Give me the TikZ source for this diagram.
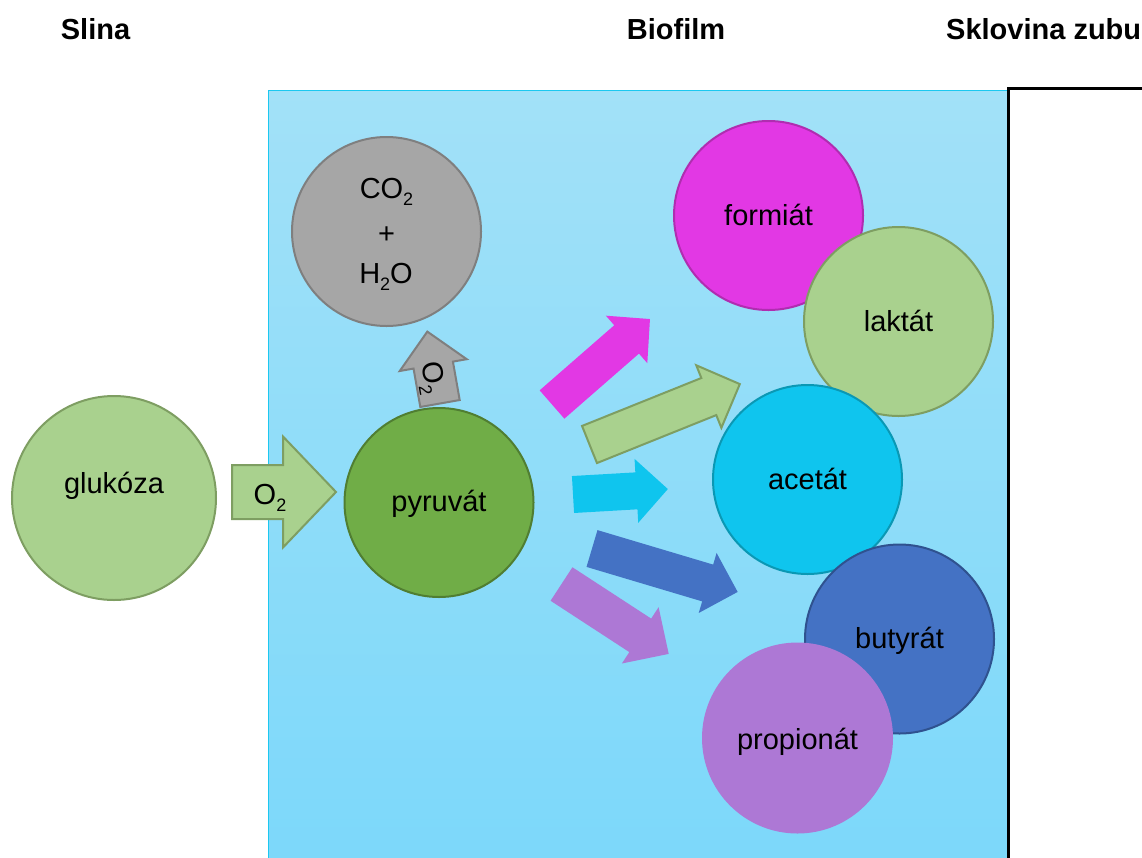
\documentclass[tikz,border=0pt]{standalone}
\usepackage{fontspec}
\setmainfont{Liberation Sans}
\definecolor{bfTop}{HTML}{A2E1F8}
\definecolor{bfBot}{HTML}{7CD8FA}
\definecolor{bfEdge}{HTML}{1CC8F0}
\definecolor{cGrn}{HTML}{A9D18E}
\definecolor{cGrnD}{HTML}{7E9E62}
\definecolor{cPyr}{HTML}{70AD47}
\definecolor{cPyrD}{HTML}{507E32}
\definecolor{cGry}{HTML}{A6A6A6}
\definecolor{cGryD}{HTML}{7F7F7F}
\definecolor{cMag}{HTML}{E238E4}
\definecolor{cMagD}{HTML}{B02DB0}
\definecolor{cCya}{HTML}{0FC5EE}
\definecolor{cCyaD}{HTML}{0A98B4}
\definecolor{cBlu}{HTML}{4472C4}
\definecolor{cBluD}{HTML}{2F528F}
\definecolor{cPur}{HTML}{AD78D5}
\newcommand{\lowtwo}[1]{\raisebox{-7pt}{\fontsize{18}{18}\selectfont #1}}
% #1 style, #2 tail centre, #3 angle, #4 length, #5 body half width, #6 head half width, #7 head length
\newcommand{\blkarrow}[7]{%
  \begin{scope}[shift={(#2)},rotate=#3]
    \path[#1] (0,-#5) -- ({#4-#7},-#5) -- ({#4-#7},-#6) -- (#4,0) -- ({#4-#7},#6) -- ({#4-#7},#5) -- (0,#5) -- cycle;
  \end{scope}}
\begin{document}
\begin{tikzpicture}[x=1pt,y=-1pt,
  circ/.style={circle,inner sep=0pt,minimum size=189pt,line width=2pt},
  lbl/.style={anchor=base,inner sep=0pt,font=\fontsize{29}{34}\selectfont},
  ttl/.style={anchor=base,inner sep=0pt,font=\bfseries\fontsize{29}{34}\selectfont},
  arrb/.style={line width=2pt,line join=miter}]
\useasboundingbox (0,0) rectangle (1142,857);
\clip (0,0) rectangle (1142,857);
% regions
\shade[top color=bfTop,bottom color=bfBot] (268,90) rectangle (1007,870);
\draw[bfEdge,line width=1.5pt] (268.5,870) -- (268.5,90.5) -- (1007,90.5);
\draw[line width=3pt] (1008.5,870) -- (1008.5,88.5) -- (1160,88.5);
% titles
\node[ttl] (slina) at (95.5,39) {Slina};
\node[ttl] (biofilm) at (676,39) {Biofilm};
\node[ttl,anchor=base west] (sklovina) at (946,39) {Sklovina zubu};
% circles
\node[circ,fill=cGry,draw=cGryD] (co) at (386.5,231.5) {};
\node[circ,fill=cPyr,draw=cPyrD] (pyruvat) at (439,502.5) {};
\node[circ,fill=cGrn,draw=cGrnD,minimum size=204pt] (glukoza) at (114,498) {};
\node[circ,fill=cMag,draw=cMagD] (formiat) at (768.5,215.5) {};
\node[circ,fill=cGrn,draw=cGrnD] (laktat) at (898.5,321.5) {};
\node[circ,fill=cCya,draw=cCyaD] (acetat) at (807.5,479.5) {};
\node[circ,fill=cBlu,draw=cBluD] (butyrat) at (899.5,639) {};
\node[circ,fill=cPur,draw=cPur] (propionat) at (797.5,738) {};
% labels
\node[lbl] (tco) at (386.5,198) {CO\lowtwo{2}};
\node[lbl] (tplus) at (386.5,243) {+};
\node[lbl] (tho) at (386,283) {H\lowtwo{2}O};
\node[lbl] (tglu) at (114,493) {glukóza};
\node[lbl] (tpyr) at (439,511) {pyruvát};
\node[lbl] (tfor) at (768.5,225) {formiát};
\node[lbl] (tlak) at (898.5,331) {laktát};
\node[lbl] (tace) at (807.5,489) {acetát};
\node[lbl] (tbut) at (899.5,648) {butyrát};
\node[lbl] (tpro) at (797.5,749) {propionát};
% arrows
\blkarrow{fill=cGrn,draw=cGrnD,arrb}{232,492}{0}{104}{27}{55.5}{53}
\node[lbl] (o2a) at (270,504) {O\lowtwo{2}};
\blkarrow{fill=cGry,draw=cGryD,arrb}{440,403.5}{100}{73}{20}{34}{34}
\node[inner sep=0pt,rotate=-80,font=\fontsize{29}{34}\selectfont] (o2b) at (431,378) {O\lowtwo{2}};
\blkarrow{fill=cMag}{552,404.5}{41.1}{130}{18.8}{31.5}{31}
\blkarrow{fill=cGrn,draw=cGrnD,arrb}{589.5,444.5}{21.9}{162}{20}{33.7}{33.4}
\blkarrow{fill=cCya}{573,494.5}{3.3}{95}{18.5}{32}{31.5}
\blkarrow{fill=cBlu}{592,548.5}{-16.6}{152}{19.2}{31.3}{31.3}
\blkarrow{fill=cPur}{561.5,584}{-33.1}{128}{20}{33.6}{34}
\end{tikzpicture}
\end{document}
